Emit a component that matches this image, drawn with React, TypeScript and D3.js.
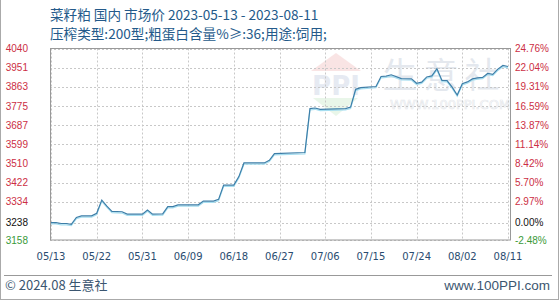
import React from "react";
import * as d3 from "d3";

const dates = [
  "2023-05-13","2023-05-14","2023-05-15","2023-05-16","2023-05-17","2023-05-18","2023-05-19","2023-05-21",
  "2023-05-22","2023-05-23","2023-05-24","2023-05-25","2023-05-27","2023-05-28","2023-05-31","2023-06-01",
  "2023-06-02","2023-06-04","2023-06-05","2023-06-06","2023-06-07","2023-06-11","2023-06-12","2023-06-14",
  "2023-06-15","2023-06-16","2023-06-18","2023-06-19","2023-06-20","2023-06-24","2023-06-25","2023-06-26",
  "2023-07-02","2023-07-03","2023-07-04","2023-07-05","2023-07-10","2023-07-11","2023-07-12","2023-07-13",
  "2023-07-16","2023-07-17","2023-07-18","2023-07-19","2023-07-21","2023-07-23","2023-07-24","2023-07-25",
  "2023-07-26","2023-07-27","2023-07-28","2023-07-29","2023-07-30","2023-07-31","2023-08-01","2023-08-02",
  "2023-08-03","2023-08-04","2023-08-05","2023-08-06","2023-08-07","2023-08-08","2023-08-09","2023-08-10",
  "2023-08-11",
];
const prices = [
  3238,3238,3234,3234,3230,3262,3269,3269,
  3281,3342,3314,3290,3288,3277,3277,3296,
  3277,3278,3312,3312,3320,3320,3337,3337,
  3345,3411,3411,3450,3513,3513,3525,3556,
  3561,3763,3766,3760,3763,3770,3852,3860,
  3865,3911,3913,3919,3901,3900,3880,3885,
  3909,3914,3947,3893,3892,3862,3826,3878,
  3886,3900,3905,3907,3925,3921,3945,3962,
  3957,
];
const yTickValues = [3158, 3238, 3334, 3422, 3510, 3599, 3687, 3775, 3863, 3951, 4040];
const yPctLabels = ["-2.48%", "0.00%", "2.97%", "5.70%", "8.42%", "11.14%", "13.87%", "16.59%", "19.31%", "22.04%", "24.76%"];
const xTickLabels = ["05/13","05/22","05/31","06/09","06/18","06/27","07/06","07/15","07/24","08/02","08/11"];
const basePrice = 3238;
const title = "菜籽粕 国内 市场价 2023-05-13 - 2023-08-11";
const subtitle = "压榨类型:200型;粗蛋白含量%≥:36;用途:饲用;";

export default function App() {
  const W = 560, H = 300;
  const left = 50, right = 510, top = 48.5, bottom = 240;
  const parse = d3.timeParse("%Y-%m-%d");
  const pts = dates.map((d, i) => ({ date: parse(d) as Date, v: prices[i] }));
  const x = d3.scaleTime()
    .domain([parse("2023-05-13") as Date, parse("2023-08-11") as Date])
    .range([51, 508]);
  const y = d3.scaleLinear().domain([3158, 4040]).range([bottom, top]);
  const line = d3.line<{ date: Date; v: number }>().x(d => x(d.date)).y(d => y(d.v));
  const xTicks = xTickLabels.map(l => {
    const [m, dd] = l.split("/");
    return { l, date: parse(`2023-${m}-${dd}`) as Date };
  });
  const numFont = "'Liberation Sans', Arial, sans-serif";
  const cjkFont = "'Noto Sans CJK SC', 'Noto Sans', sans-serif";
  const labelColor = (v: number) => (v > basePrice ? "#cc2e44" : v < basePrice ? "#3a9a3a" : "#111");

  return (
    <svg width={W} height={H} style={{ position: "absolute", left: 0, top: 0, background: "#fff" }}>
      {/* outer frame */}
      <line x1={0.5} y1={0} x2={0.5} y2={H} stroke="#aaa" />
      <line x1={558.5} y1={0} x2={558.5} y2={H} stroke="#aaa" />
      <line x1={0} y1={299.5} x2={559} y2={299.5} stroke="#aaa" />

      <text x={50} y={20} fontFamily={cjkFont} fontSize={13.6} fill="#245a8a">{title}</text>
      <text x={50} y={39} fontFamily={cjkFont} fontSize={13.6} fill="#245a8a">{subtitle}</text>

      {/* watermark */}
      <g opacity={0.22}>
        <polygon points="311,71 336,53 361,71" fill="#e88a8a" />
        <text x={336} y={95} textAnchor="middle" fontFamily="'DejaVu Sans', sans-serif" fontWeight="bold" fontSize={26} fill="#8fa3c8">PPI</text>
        <polygon points="313,98 358,98 336,116" fill="#9fd89f" />
        <text x={444} y={88} textAnchor="middle" fontFamily={cjkFont} fontSize={35} fill="#8a9ab4" letterSpacing={6}>生意社</text>
        <text x={450} y={109} textAnchor="middle" fontFamily="'DejaVu Sans', sans-serif" fontSize={13} fill="none" stroke="#8a96a8" strokeWidth={0.7}>WWW.100PPI.COM</text>
      </g>

      {/* grid */}
      {yTickValues.map(v => (
        <line key={"gy" + v} x1={left} x2={right} y1={Math.round(y(v)) + 0.5} y2={Math.round(y(v)) + 0.5}
          stroke="#c8c8c8" strokeDasharray="2,2" />
      ))}
      {xTicks.map(t => (
        <line key={"gx" + t.l} x1={Math.round(x(t.date)) + 0.5} x2={Math.round(x(t.date)) + 0.5} y1={top} y2={bottom}
          stroke="#c8c8c8" strokeDasharray="2,2" />
      ))}
      <rect x={left + 0.5} y={top} width={right - left} height={bottom - top} fill="none" stroke="#999" />

      {/* line */}
      <path d={line(pts) || ""} fill="none" stroke="#a6def0" strokeWidth={1.2} transform="translate(0,1.3)" />
      <path d={line(pts) || ""} fill="none" stroke="#3d7ea8" strokeWidth={1.2} />

      {/* y labels */}
      {yTickValues.map((v, i) => (
        <g key={"yl" + v}>
          <text x={28} y={y(v)} dy="0.35em" textAnchor="end" fontFamily={numFont} fontSize={10} fill={labelColor(v)}>{v}</text>
          <text x={515} y={y(v)} dy="0.35em" textAnchor="start" fontFamily={numFont} fontSize={10} fill={labelColor(v)}>{yPctLabels[i]}</text>
        </g>
      ))}

      {/* x labels */}
      {xTicks.map(t => (
        <text key={"xl" + t.l} x={x(t.date)} y={260} textAnchor="middle" fontFamily="'DejaVu Sans', sans-serif" fontSize={10} fill="#2a4c70">{t.l}</text>
      ))}

      {/* footer */}
      <line x1={4} x2={552} y1={275.5} y2={275.5} stroke="#999" />
      <text x={5} y={290} fontFamily={cjkFont} fontSize={13} fill="#3b5670">© 2024.08 生意社</text>
      <text x={550} y={290} textAnchor="end" fontFamily={numFont} fontSize={13.5} fill="#3b5670">www.100PPI.com</text>
    </svg>
  );
}
